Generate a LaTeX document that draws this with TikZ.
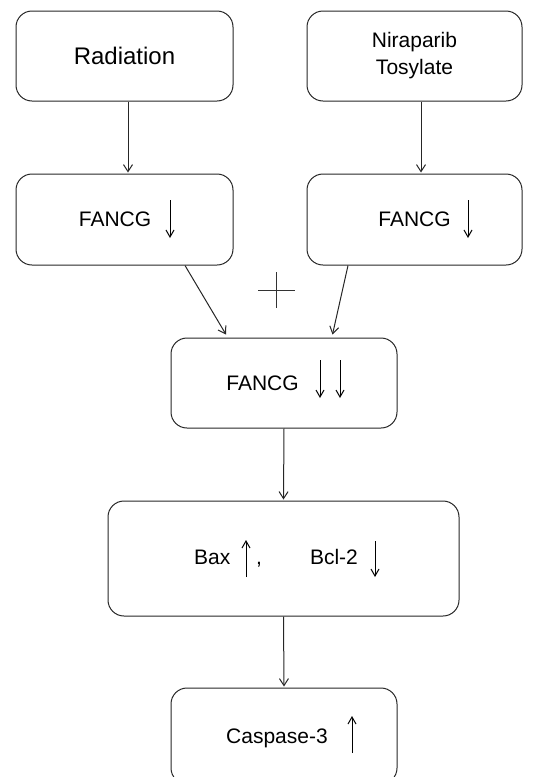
\documentclass[tikz,border=0pt]{standalone}
\usepackage{fontspec}
\setmainfont{Liberation Sans}
\usetikzlibrary{arrows.meta}
\begin{document}
\begin{tikzpicture}[x=1pt,y=-1pt,
  line width=1pt,
  box/.style={draw=black!85, rounded corners=16pt, inner sep=0pt, align=center,
    font=\fontsize{21}{27}\selectfont},
  conn/.style={draw=black!85, -{Straight Barb[length=7pt,width=9pt]}},
  tarr/.style={draw=black, line width=1pt, -{Straight Barb[length=7pt,width=8pt]}}]
\useasboundingbox (0,0) rectangle (544,777);

% boxes
\node[box, minimum width=217pt, minimum height=90pt,
      font=\fontsize{24}{28}\selectfont] (rad) at (124.5,56) {Radiation};
\node[box, minimum width=215pt, minimum height=90pt] (nir) at (414.5,56) {Niraparib\\Tosylate};
\node[box, minimum width=217pt, minimum height=91pt] (fl) at (124.5,219.5) {FANCG\hspace{19pt}};
\node[box, minimum width=215pt, minimum height=91pt] (fr) at (414.5,219.5) {FANCG};
\node[box, minimum width=226pt, minimum height=90pt] (fc) at (284,383) {FANCG\hspace{43pt}};
\node[box, minimum width=351pt, minimum height=115pt] (bax) at (283.5,558.5)
  {Bax\hspace{26pt},\hspace{48pt}Bcl-2\hspace{15pt}};
\node[box, minimum width=226pt, minimum height=96pt, text depth=0pt] (cas) at (284,736)
  {Caspase-3\hspace{14pt}};

% up/down markers inside the boxes
\draw[tarr] ([shift={(45.5,-19.5)}]fl.center) -- ([shift={(45.5,18.5)}]fl.center);
\draw[tarr] ([shift={(53.5,-19.5)}]fr.center) -- ([shift={(53.5,18.5)}]fr.center);
\draw[tarr] ([shift={(36,-23)}]fc.center) -- ([shift={(36,15)}]fc.center);
\draw[tarr] ([shift={(56,-23)}]fc.center) -- ([shift={(56,15)}]fc.center);
\draw[tarr] ([shift={(-37.5,18.5)}]bax.center) -- ([shift={(-37.5,-18.5)}]bax.center);
\draw[tarr] ([shift={(91.5,-17.5)}]bax.center) -- ([shift={(91.5,18.5)}]bax.center);
\draw[tarr] ([shift={(68,17)}]cas.center) -- ([shift={(68,-20)}]cas.center);

% connectors
\draw[conn] ([xshift=3.5pt]rad.south) -- ([shift={(3.5,-1)}]fl.north);
\draw[conn] ([xshift=6.5pt]nir.south) -- ([shift={(6.5,-1)}]fr.north);
\draw[conn] ([xshift=60.5pt]fl.south) -- ([shift={(-58,-3)}]fc.north);
\draw[conn] ([xshift=-66.5pt]fr.south) -- ([shift={(48.5,-3)}]fc.north);
\draw[conn] (fc.south) -- ([yshift=1pt]bax.north);
\draw[conn] (bax.south) -- ([yshift=1pt]cas.north);

% plus sign between the two branches
\coordinate (plus) at (276.5,290);
\draw[draw=black!80] ([xshift=-18.5pt]plus) -- ([xshift=18.5pt]plus)
  ([yshift=18pt]plus) -- ([yshift=-18pt]plus);
\end{tikzpicture}
\end{document}
